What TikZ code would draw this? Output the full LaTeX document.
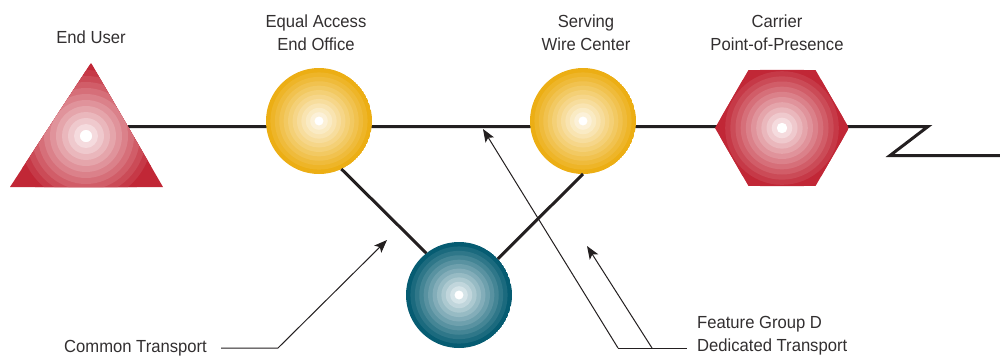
\documentclass[tikz,border=0pt]{standalone}
\usepackage{fontspec}
\setmainfont{Liberation Sans}[FakeStretch=0.95]
\usetikzlibrary{arrows.meta,shapes.geometric,backgrounds}
\definecolor{ink}{RGB}{35,31,32}
\definecolor{txt}{RGB}{50,47,48}
\definecolor{cred}{RGB}{193,39,54}
\definecolor{cgold}{RGB}{236,174,20}
\definecolor{cteal}{RGB}{6,92,114}
\newcommand\concentric[4]{%
  \foreach \k in {0,...,#3}{%
    \pgfmathsetmacro\rr{#2*(1-\k/(#3+1))}%
    \pgfmathsetmacro\pp{100*(1-\k/(#3+1))}%
    \fill[#4!\pp!white] #1 circle[radius=\rr pt];
  }%
  \pgfmathsetmacro\rr{#2/(#3+1)}%
  \fill[white] #1 circle[radius=\rr pt];%
}
\begin{document}
\begin{tikzpicture}[x=1pt,y=-1pt,
  every node/.style={text=txt,font=\fontsize{17.5}{23}\selectfont},
  disc/.style n args={2}{circle,minimum size=106pt,inner sep=0pt,outer sep=0pt,
     path picture={\concentric{(path picture bounding box.center)}{#1}{11}{#2}}},
  hexa/.style={regular polygon,regular polygon sides=6,minimum size=134pt,inner sep=0pt,outer sep=0pt,
     path picture={\fill[cred] (path picture bounding box.south west) rectangle (path picture bounding box.north east);
                   \concentric{(path picture bounding box.center)}{62}{11}{cred}}},
  mainline/.style={draw=ink,line width=3pt},
  link/.style={draw=ink,line width=3pt},
  leader/.style={draw=ink,line width=1pt},
  tip/.style={-{Stealth[length=13pt,width=10pt,inset=3pt]}}
]
\useasboundingbox (0,0) rectangle (1000,360);

% End user triangle
\begin{scope}
  \clip (91,63) -- (163,187) -- (10,187) -- cycle;
  \fill[cred] (0,50) rectangle (180,200);
  \concentric{(86,136)}{72}{11}{cred}
\end{scope}
\coordinate (eu) at (86,136);
\coordinate (euR) at (128,126.5);

% nodes
\node[disc={53}{cgold}] (eo) at (319,121) {};
\node[disc={53}{cgold}] (swc) at (583,121) {};
\node[disc={53}{cteal}] (da) at (459,295) {};
\node[hexa] (pop) at (782,128) {};

% main line with zigzag
\coordinate (zzA) at (928,126.5);
\coordinate (zzB) at (890,155.5);
\coordinate (zzEnd) at (1000,155.5);
\begin{pgfonlayer}{background}
\draw[mainline] (euR) -- (euR -| eo.center) -- (euR -| swc.center) -- (euR -| pop.center) -- (zzA) -- (zzB) -- (zzEnd);
\end{pgfonlayer}

% links to tandem
\draw[link] (eo.-65) -- (da.128);
\draw[link] (swc.-90) -- (da.43);

% labels
\node[anchor=base] (leu) at (91,43) {End User};
\node[anchor=base,align=center] (leo) at (316,50) {Equal Access\\End Office};
\node[anchor=base,align=center] (lswc) at (586,50) {Serving\\Wire Center};
\node[anchor=base,align=center] (lpop) at (777,50) {Carrier\\Point-of-Presence};
\node[anchor=base west,inner sep=0pt] (lct) at (64,352) {Common Transport};
\node[anchor=base west,align=left,inner sep=0pt] (lfg) at (697,351) {Feature Group D\\Dedicated Transport};

% leaders
\coordinate (ctA) at (221,348);
\coordinate (ctB) at (278,348);
\coordinate (ctTip) at (387,240);
\draw[leader,tip] (ctA) -- (ctB) -- (ctTip);

\coordinate (fgA) at (618,348);
\coordinate (fgM) at (652,348);
\coordinate (fgC) at (687,348);
\coordinate (fgTip1) at (483,129);
\coordinate (fgTip2) at (587,246);
\draw[leader] (fgA) -- (fgC);
\draw[leader,tip] (fgA) -- (fgTip1);
\draw[leader,tip] (fgM) -- (fgTip2);
\end{tikzpicture}
\end{document}
